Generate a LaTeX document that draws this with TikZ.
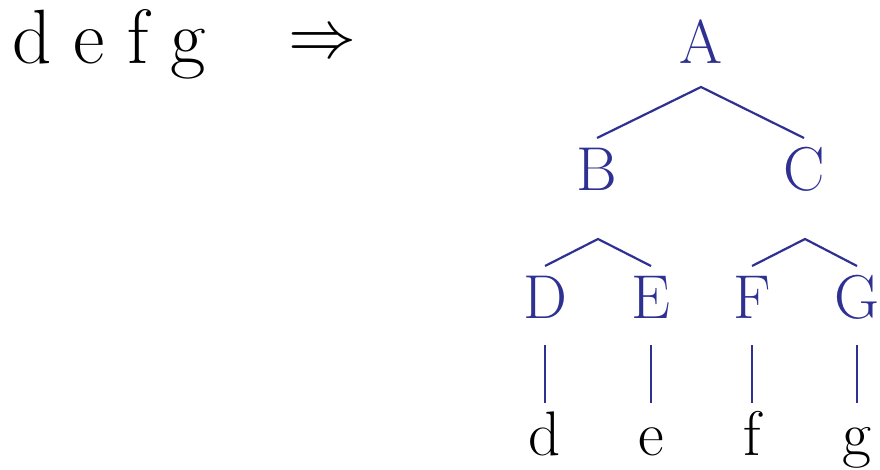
\documentclass[tikz,border=0pt]{standalone}
\usepackage{fontspec}
\usepackage{graphicx}
\usetikzlibrary{calc}
\definecolor{treeblue}{RGB}{46,49,146}
\begin{document}
\begin{tikzpicture}[x=1pt,y=-1pt,
  lab/.style={inner sep=0pt, anchor=base, text=treeblue, font=\fontsize{62}{70}\selectfont},
  leaf/.style={inner sep=0pt, anchor=base, text=black, font=\fontsize{63}{70}\selectfont},
  edge/.style={draw=treeblue, line width=2.2pt}]
\useasboundingbox (0,0) rectangle (880,469);
% source string and arrow
\node[leaf, anchor=base west, font=\fontsize{77}{80}\selectfont] (src) at (12,63) {\spaceskip=0.29em d e f g};
\node[inner sep=0pt] (arr) at (322,45) {\scalebox{6.8}{$\Rightarrow$}};
% tree nodes
\node[lab] (A) at (701,63) {A};
\node[lab] (B) at (597,190) {B};
\node[lab] (C) at (804,190) {C};
\node[lab] (D) at (545,318) {D};
\node[lab] (E) at (651,318) {E};
\node[lab] (F) at (752,318) {F};
\node[lab] (G) at (857,318) {G};
\node[leaf] (ld) at (545,455) {d};
\node[leaf] (le) at (651,455) {e};
\node[leaf] (lf) at (752,455) {f};
\node[leaf] (lg) at (857,455) {g};
% edges
\draw[edge] ($(B.base)+(0,-52)$) -- ($(A.base)+(0,24)$) -- ($(C.base)+(0,-52)$);
\draw[edge] ($(D.base)+(0,-52)$) -- ($(B.base)+(1,49)$) -- ($(E.base)+(0,-52)$);
\draw[edge] ($(F.base)+(0,-52)$) -- ($(C.base)+(1,49)$) -- ($(G.base)+(0,-52)$);
\foreach \u/\l in {D/ld,E/le,F/lf,G/lg}
  \draw[edge] ($(\u.base)+(0,27)$) -- ($(\l.base)+(0,-52)$);
\end{tikzpicture}
\end{document}
